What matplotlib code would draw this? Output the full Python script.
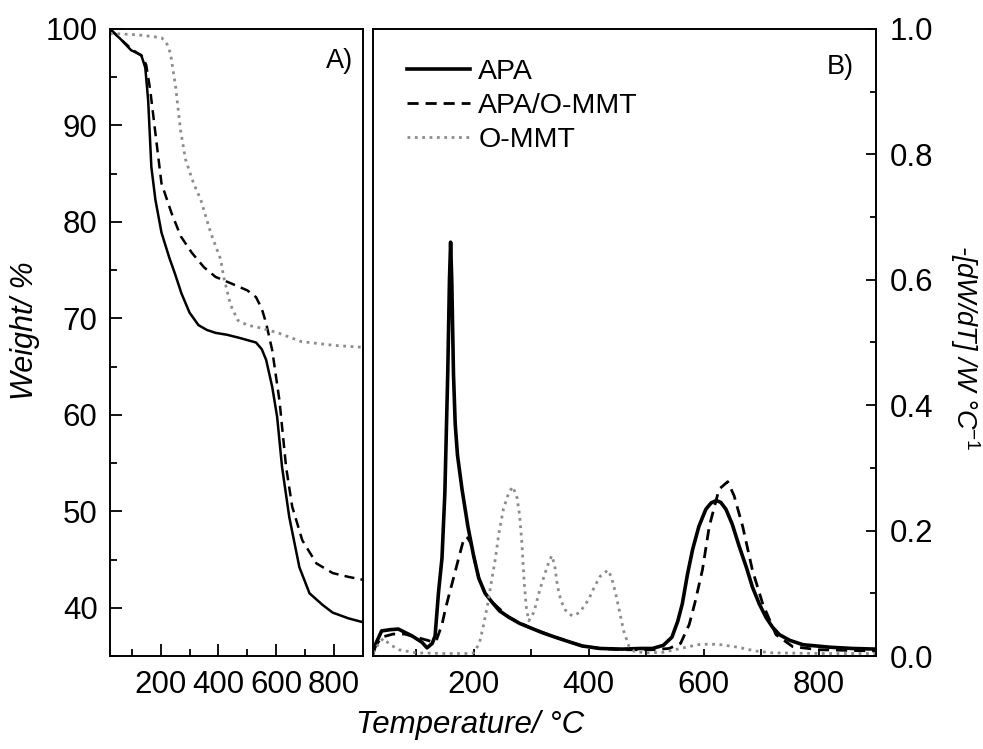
import numpy as np
import matplotlib
matplotlib.use('Agg')
import matplotlib.pyplot as plt
from matplotlib.ticker import MultipleLocator

plt.rcParams['font.family'] = ['Liberation Sans', 'DejaVu Sans']
plt.rcParams['mathtext.fontset'] = 'custom'
plt.rcParams['mathtext.rm'] = 'Liberation Sans'
plt.rcParams['mathtext.it'] = 'Liberation Sans:italic'

# TGA (panel A)
t_apa = [25, 60, 98, 133, 147, 157, 168, 182, 203, 230, 250, 272, 300, 331, 360, 390, 430,
         470, 530, 550, 565, 586, 603, 620, 645, 680, 715, 760, 795, 850, 900]
w_apa = [100, 99.0, 97.8, 97.3, 96.0, 92.6, 85.7, 82.3, 78.9, 76.3, 74.6, 72.6, 70.6, 69.3,
         68.8, 68.5, 68.3, 68.0, 67.5, 66.8, 65.7, 62.9, 59.8, 54.6, 49.4, 44.2, 41.5, 40.3,
         39.5, 38.9, 38.5]

t_nc = [25, 60, 100, 135, 150, 164, 182, 203, 238, 270, 308, 350, 390, 446, 500, 530, 550,
        565, 586, 611, 634, 655, 690, 739, 795, 850, 900]
w_nc = [100, 99.0, 97.9, 97.2, 96.3, 93.7, 89.2, 84.0, 80.9, 78.5, 76.8, 75.3, 74.3, 73.6,
        72.9, 72.2, 71.0, 69.5, 66.7, 61.5, 54.6, 50.5, 47.0, 44.6, 43.6, 43.2, 42.9]

t_mmt = [25, 53, 120, 203, 220, 234, 252, 269, 286, 314, 339, 373, 408, 418, 442, 467, 500,
         547, 606, 686, 800, 900]
w_mmt = [99.5, 99.5, 99.4, 99.1, 98.6, 97.5, 94.0, 89.5, 86.5, 84.0, 82.3, 78.9, 76.1, 74.3,
         71.4, 69.8, 69.3, 69.0, 68.5, 67.6, 67.2, 67.0]

# DTG (panel B)
d_t_apa = [25, 30, 40, 55, 69, 93, 110, 119, 128, 133, 139, 145, 150, 155, 158, 160, 162,
           165, 168, 172, 180, 190, 200, 209, 220, 232, 245, 261, 280, 296, 320, 342, 365,
           389, 420, 459, 490, 511, 530, 545, 555, 563, 572, 581, 592, 604, 613, 622, 630,
           639, 650, 662, 675, 685, 697, 709, 720, 732, 750, 773, 820, 860, 900]
d_apa = [0.005, 0.02, 0.04, 0.042, 0.043, 0.032, 0.022, 0.013, 0.02, 0.032, 0.102, 0.156,
         0.26, 0.45, 0.6, 0.66, 0.6, 0.45, 0.37, 0.32, 0.265, 0.207, 0.16, 0.124, 0.10,
         0.086, 0.072, 0.062, 0.052, 0.046, 0.037, 0.03, 0.023, 0.016, 0.012, 0.011, 0.012,
         0.012, 0.017, 0.03, 0.055, 0.083, 0.13, 0.17, 0.207, 0.234, 0.244, 0.248, 0.245,
         0.234, 0.21, 0.175, 0.14, 0.11, 0.083, 0.061, 0.046, 0.034, 0.025, 0.018, 0.014,
         0.012, 0.011]

d_t_nc = [25, 40, 60, 80, 100, 120, 130, 136, 145, 151, 158, 165, 174, 181, 186, 190, 195,
          200, 209, 220, 232, 261, 296, 342, 389, 420, 459, 511, 540, 560, 575, 585, 598,
          610, 627, 642, 653, 668, 685, 703, 726, 755, 800, 900]
d_nc = [0.01, 0.03, 0.035, 0.035, 0.03, 0.025, 0.022, 0.027, 0.05, 0.075, 0.10, 0.124,
        0.156, 0.18, 0.19, 0.188, 0.18, 0.16, 0.124, 0.10, 0.086, 0.062, 0.046, 0.03,
        0.016, 0.012, 0.01, 0.01, 0.012, 0.02, 0.05, 0.085, 0.137, 0.207, 0.266, 0.278,
        0.256, 0.207, 0.137, 0.083, 0.034, 0.015, 0.01, 0.008]

d_t_mmt = [25, 35, 43, 55, 70, 100, 150, 195, 200, 210, 217, 225, 232, 238, 244, 252, 261,
           268, 275, 280, 284, 288, 292, 296, 305, 315, 325, 331, 336, 341, 346, 352, 359,
           367, 374, 385, 400, 410, 420, 428, 434, 440, 447, 453, 461, 470, 480, 500, 530,
           560, 590, 610, 630, 660, 690, 720, 800, 900]
d_mmt = [0.005, 0.02, 0.028, 0.018, 0.01, 0.005, 0.004, 0.004, 0.005, 0.02, 0.048, 0.085,
         0.124, 0.156, 0.196, 0.235, 0.26, 0.27, 0.255, 0.225, 0.18, 0.117, 0.075, 0.056,
         0.07, 0.105, 0.134, 0.15, 0.16, 0.145, 0.111, 0.088, 0.074, 0.066, 0.064, 0.07,
         0.09, 0.11, 0.127, 0.133, 0.137, 0.125, 0.10, 0.075, 0.04, 0.016, 0.007, 0.005,
         0.006, 0.012, 0.018, 0.019, 0.018, 0.014, 0.008, 0.005, 0.004, 0.004]

labels = ['APA', 'APA/O-MMT', 'O-MMT']
gray = '#8c8c8c'

W, H = 983, 749
fig = plt.figure(figsize=(W / 100, H / 100), dpi=100)
ax_a = fig.add_axes([110 / W, 1 - 656 / H, 253 / W, 627 / H])
ax_b = fig.add_axes([373 / W, 1 - 656 / H, 503 / W, 627 / H])

# panel A
ax_a.plot(t_apa, w_apa, color='black', lw=1.8)
ax_a.plot(t_nc, w_nc, color='black', lw=1.8, dashes=(4, 2.5))
ax_a.plot(t_mmt, w_mmt, color=gray, lw=2, linestyle=':')
ax_a.set_xlim(25, 900)
ax_a.set_ylim(35, 100)
ax_a.xaxis.set_major_locator(MultipleLocator(200))
ax_a.xaxis.set_minor_locator(MultipleLocator(100))
ax_a.yaxis.set_major_locator(MultipleLocator(10))
ax_a.yaxis.set_minor_locator(MultipleLocator(5))
ax_a.tick_params(which='both', direction='in', top=False, right=False, labelsize=22.5, width=1.3)
ax_a.tick_params(which='major', length=8.5)
ax_a.tick_params(which='minor', length=5)
ax_a.tick_params(axis='y', pad=9)
ax_a.tick_params(axis='x', pad=10)
ax_a.text(0.96, 0.97, 'A)', transform=ax_a.transAxes, ha='right', va='top', fontsize=19.5)

# panel B
ax_b.plot(d_t_apa, d_apa, color='black', lw=2.6, label=labels[0])
ax_b.plot(d_t_nc, d_nc, color='black', lw=2, dashes=(4, 2.5), label=labels[1])
ax_b.plot(d_t_mmt, d_mmt, color=gray, lw=2, linestyle=':', label=labels[2])
ax_b.set_xlim(25, 900)
ax_b.set_ylim(0, 1.0)
ax_b.xaxis.set_major_locator(MultipleLocator(200))
ax_b.xaxis.set_minor_locator(MultipleLocator(100))
ax_b.yaxis.set_major_locator(MultipleLocator(0.2))
ax_b.yaxis.set_minor_locator(MultipleLocator(0.1))
ax_b.yaxis.tick_right()
ax_b.tick_params(which='both', direction='in', top=False, left=False, labelsize=22.5, width=1.3)
ax_b.tick_params(axis='y', which='major', length=7, pad=10)
ax_b.tick_params(axis='y', which='minor', length=4)
ax_b.tick_params(axis='x', which='both', length=5, pad=10)
ax_b.text(0.955, 0.96, 'B)', transform=ax_b.transAxes, ha='right', va='top', fontsize=19.5)
ax_b.legend(loc='upper left', bbox_to_anchor=(0.045, 0.97), frameon=False, fontsize=20.5,
            handlelength=2.2, handletextpad=0.3, labelspacing=0.28, borderaxespad=0)

for ax in (ax_a, ax_b):
    for sp in ax.spines.values():
        sp.set_linewidth(1.4)

fig.text(470 / W, 1 - 725 / H, 'Temperature/ °C', ha='center', va='center',
         fontsize=22.5, style='italic')
fig.text(25 / W, 1 - 331 / H, 'Weight/ %', ha='center', va='center', rotation=90,
         fontsize=22, style='italic')
fig.text(965 / W, 1 - 348 / H, r'-[dW/dT] /W °C$^{\mathit{-1}}$', ha='center', va='center',
         rotation=270, fontsize=19.5, style='italic')

fig.savefig('out.png', dpi=100)
